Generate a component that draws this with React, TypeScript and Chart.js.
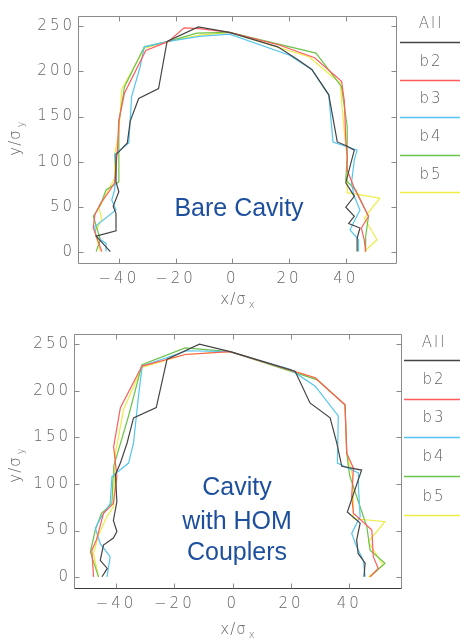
import React, { useEffect, useRef } from 'react';
import { Chart, registerables } from 'chart.js';
Chart.register(...registerables);

// ---- data ----
const xTicks = [-40, -20, 0, 20, 40];
const yTicks = [0, 50, 100, 150, 200, 250];
const seriesLabels = ['All', 'b2', 'b3', 'b4', 'b5'];
const seriesColors = ['#454545', '#ff5c5c', '#56c6ef', '#6dc24b', '#eeec46'];

// Bare cavity
const bareAll = [[-43,1],[-48,18],[-41,24],[-41,43],[-42,51],[-40,67],[-41,78],[-41,100],[-41,108],[-37,121],[-36,145],[-33,170],[-26,181],[-23,233],[-12,249],[-1,243],[16,227],[23,213],[28,202],[34,174],[37,122],[40,118],[43,113],[40,77],[43,62],[40,50],[43,40],[41,32],[45,27],[44,16],[44,1]];
const bareB2 = [[-46,1],[-49,27],[-48.5,41],[-46.5,54],[-43.5,67],[-41.5,77],[-40.5,113],[-40,146],[-38,176],[-30.5,223],[-22.5,233],[-17,248],[-11.5,247],[-1,243],[16.5,229],[29,215],[38.5,189],[39.5,167],[40,124],[40.5,106],[40.5,91],[43,71],[48,40],[45.5,27],[46.5,14],[47,1]];
const bareB3 = [[-44.5,1],[-44.5,10],[-48,17.5],[-48.5,28.5],[-41,47],[-42.5,58],[-41.5,69],[-41,91],[-41.5,108],[-36.5,121],[-36,146],[-35.5,172],[-32.5,205],[-31,227],[-22.5,233],[-11.5,238.5],[-1,241],[20,218],[28,202],[34,174],[35.5,122],[44,113],[43,102],[42,76.5],[43,62],[45,47],[41.5,25],[44.5,14],[44.5,1]];
const bareB4 = [[-48,1],[-46.5,14],[-49,40],[-46.5,52.5],[-44.5,69],[-40,78],[-40,113],[-40,143],[-38,183],[-31,227],[-22.5,233],[-12.5,242],[-1,243],[29.5,220],[38.5,183],[40.5,139],[40.5,106],[40,80],[43.5,69],[48,40],[47,17.5],[47,1]];
const bareB5 = [[-46.5,1],[-48.5,23],[-46,36],[-47,49],[-43,73],[-41.5,82],[-41.5,108],[-40,132],[-39,180],[-31,225.5],[-22.5,233],[-11.5,240],[-1,243],[27,216],[33,200],[38,187],[39.5,132],[40.5,106],[40.5,66],[52,60],[46.5,38],[51,14],[46.5,1]];

// Cavity with HOM couplers
const homAll = [[-44.8,0.5],[-43,9.4],[-45.4,18],[-44.3,34.5],[-40.9,42],[-39.7,49],[-40.9,61],[-39.7,81],[-40.2,110],[-38.5,122.5],[-36.2,144],[-34,171],[-26.2,182],[-22.5,234],[-11.4,250],[-0.9,242],[21.4,221],[26.5,187],[33.4,171],[35.7,144],[37.4,119],[44.2,115],[39.3,70],[43.7,58],[42.5,40],[43,25.5],[45.4,15],[45,0.5]];
const homB2 = [[-47.7,0.3],[-48.3,29],[-46.7,40],[-44.3,68.6],[-40.9,79],[-39.7,108],[-40.8,140],[-38.5,182],[-31.1,226.6],[-16.3,239],[-0.9,242],[28.3,214],[38.5,185],[39.1,133],[41.4,117],[40.8,86.5],[41.4,68.6],[47.7,50.6],[48.2,22],[49.9,9.4],[47.1,0.3]];
const homB3 = [[-43.1,0.3],[-42,22],[-45.4,36],[-47.1,52.5],[-45,65],[-42,79],[-41.4,108],[-35.7,122.5],[-34,144],[-32.3,194],[-31,226.6],[-15.7,243],[-0.9,242],[19.7,223],[28.3,205],[36.2,173],[35.9,122.5],[43.1,112],[43.1,97],[43.7,65],[40.8,47],[42.5,32.6],[44.8,18],[45.4,0.3]];
const homB4 = [[-46,0.3],[-48.8,27],[-47.1,50.6],[-45,68.6],[-41.4,79],[-41,108],[-40.8,119],[-35.7,173],[-31.1,228],[-16.3,246],[-0.9,242],[28.8,212],[38.5,185],[39.1,135],[39.7,117],[40.2,108],[46,54],[47.1,29],[52.2,15],[47.1,0.3]];
const homB5 = [[-46,0.3],[-47.7,25.5],[-46,45],[-43.1,65],[-40.8,75.8],[-40.5,108],[-40.2,133],[-37.4,180],[-31.1,225],[-16.3,239],[-0.9,242],[28.3,214],[38.5,185],[39.1,133],[41,110],[41.4,86.5],[41.4,63],[52.2,59.6],[46.5,38],[51.6,13],[46.5,0.3]];

const bareSeries = [bareAll, bareB2, bareB3, bareB4, bareB5];
const homSeries = [homAll, homB2, homB3, homB4, homB5];
const bareNote = ['Bare Cavity'];
const homNote = ['Cavity', 'with HOM', 'Couplers'];

// ---- styling ----
const TICK_FONT = '"DejaVu Sans"';
const GRAY_TEXT = '#636363';
const AXIS_GRAY = '#8a8a8a';
const NOTE_BLUE = '#1d4f9e';

type PanelCfg = {
  h: number; left: number; right: number; top: number; bottom: number;
  series: number[][][];
  legendX0: number; legendTextX: number; legendTextY: number[]; legendLineY: number[];
  yTitle: [number, number]; xTitle: [number, number];
  note: string[]; noteX: number; noteY: number[];
  bottomAxisColor: string;
};

const topCfg: PanelCfg = {
  h: 320, left: 78, right: 396, top: 16, bottom: 263,
  series: bareSeries,
  legendX0: 400, legendTextX: 430, legendTextY: [24, 62, 99, 137, 175], legendLineY: [42, 80, 117, 155, 192],
  yTitle: [15, 138], xTitle: [238, 299],
  note: bareNote, noteX: 239, noteY: [209],
  bottomAxisColor: AXIS_GRAY,
};
const botCfg: PanelCfg = {
  h: 321, left: 74, right: 401, top: 14, bottom: 268,
  series: homSeries,
  legendX0: 404, legendTextX: 433, legendTextY: [23, 60, 98, 137, 177], legendLineY: [40, 79, 117, 156, 195],
  yTitle: [15, 145], xTitle: [238, 309],
  note: homNote, noteX: 237, noteY: [168, 202, 233],
  bottomAxisColor: '#3c3c3c',
};

function fmt(v: number) {
  return v < 0 ? '\u2212' + Math.abs(v) : String(v);
}

function drawSubTitle(ctx: CanvasRenderingContext2D, main: string, sub: string) {
  ctx.font = `200 15px ${TICK_FONT}`;
  const w1 = ctx.measureText(main).width;
  ctx.font = `200 10px ${TICK_FONT}`;
  const w2 = ctx.measureText(sub).width;
  const x0 = -(w1 + w2 + 2) / 2;
  ctx.textAlign = 'left';
  ctx.textBaseline = 'alphabetic';
  ctx.font = `200 15px ${TICK_FONT}`;
  ctx.fillText(main, x0, 5);
  ctx.font = `200 10px ${TICK_FONT}`;
  ctx.fillText(sub, x0 + w1 + 2, 9);
}

const framePlugin = {
  id: 'frame',
  beforeDraw(chart: any) {
    chart.ctx.letterSpacing = '3px';
  },
  afterDraw(chart: any, _args: any, o: any) {
    const ctx: CanvasRenderingContext2D = chart.ctx;
    const a = chart.chartArea;
    const xs = chart.scales.x;
    const ys = chart.scales.y;
    ctx.save();
    ctx.letterSpacing = '0px';
    ctx.lineWidth = 1;
    const L = Math.round(a.left) + 0.5, R = Math.round(a.right) + 0.5;
    const T = Math.round(a.top) + 0.5, B = Math.round(a.bottom) + 0.5;
    ctx.strokeStyle = AXIS_GRAY;
    ctx.beginPath();
    ctx.moveTo(L, B); ctx.lineTo(L, T); ctx.lineTo(R, T); ctx.lineTo(R, B);
    ctx.stroke();
    ctx.strokeStyle = o.bottomAxisColor;
    ctx.beginPath(); ctx.moveTo(L, B); ctx.lineTo(R, B); ctx.stroke();
    ctx.strokeStyle = AXIS_GRAY;
    const tl = 5;
    ctx.beginPath();
    for (const v of xTicks) {
      const px = Math.round(xs.getPixelForValue(v)) + 0.5;
      ctx.moveTo(px, B); ctx.lineTo(px, B - tl);
      ctx.moveTo(px, T); ctx.lineTo(px, T + tl);
    }
    for (const v of yTicks) {
      const py = Math.round(ys.getPixelForValue(v)) + 0.5;
      ctx.moveTo(L, py); ctx.lineTo(L + tl, py);
      ctx.moveTo(R, py); ctx.lineTo(R - tl, py);
    }
    ctx.stroke();

    // legend table
    chart.data.datasets.forEach((ds: any, i: number) => {
      ctx.strokeStyle = ds.borderColor;
      ctx.lineWidth = 1.6;
      ctx.beginPath();
      ctx.moveTo(o.legendX0, o.legendLineY[i] + 0.5);
      ctx.lineTo(chart.width, o.legendLineY[i] + 0.5);
      ctx.stroke();
      ctx.fillStyle = GRAY_TEXT;
      ctx.font = `200 15px ${TICK_FONT}`;
      ctx.letterSpacing = '2px';
      ctx.textAlign = 'center';
      ctx.textBaseline = 'middle';
      ctx.fillText(ds.label, o.legendTextX + 1, o.legendTextY[i]);
    });

    // axis titles
    ctx.letterSpacing = '1px';
    ctx.fillStyle = GRAY_TEXT;
    ctx.save();
    ctx.translate(o.xTitle[0], o.xTitle[1]);
    drawSubTitle(ctx, 'x/\u03c3', 'x');
    ctx.restore();
    ctx.save();
    ctx.translate(o.yTitle[0], o.yTitle[1]);
    ctx.rotate(-Math.PI / 2);
    drawSubTitle(ctx, 'y/\u03c3', 'y');
    ctx.restore();

    // annotation
    ctx.letterSpacing = '0px';
    ctx.fillStyle = NOTE_BLUE;
    ctx.font = '25px "Liberation Sans", Arial, sans-serif';
    ctx.textAlign = 'center';
    ctx.textBaseline = 'middle';
    o.note.forEach((t: string, i: number) => ctx.fillText(t, o.noteX, o.noteY[i]));
    ctx.restore();
  },
};

function makeConfig(c: PanelCfg): any {
  return {
    type: 'scatter',
    data: {
      datasets: c.series.map((pts, i) => ({
        label: seriesLabels[i],
        data: pts.map(([x, y]) => ({ x, y })),
        showLine: true,
        borderColor: seriesColors[i],
        backgroundColor: seriesColors[i],
        borderWidth: 1.2,
        pointRadius: 0,
        pointHoverRadius: 0,
        tension: 0,
        fill: false,
      })),
    },
    options: {
      responsive: false,
      animation: false,
      events: [],
      layout: { padding: { left: 0, right: 460 - c.right, top: c.top, bottom: 0 } },
      plugins: {
        legend: { display: false },
        tooltip: { enabled: false },
        frame: c,
      },
      scales: {
        x: {
          type: 'linear',
          min: -54.4,
          max: 57.7,
          afterBuildTicks: (s: any) => { s.ticks = xTicks.map((v) => ({ value: v })); },
          afterFit: (s: any) => { s.height = c.h - c.bottom; },
          grid: { display: false, drawTicks: false },
          border: { display: false },
          ticks: {
            autoSkip: false, maxRotation: 0, padding: 7,
            color: GRAY_TEXT,
            font: { family: TICK_FONT, size: 15, weight: '200' },
            callback: (v: number) => fmt(v),
          },
        },
        y: {
          type: 'linear',
          min: -11.6,
          max: 261,
          afterBuildTicks: (s: any) => { s.ticks = yTicks.map((v) => ({ value: v })); },
          afterFit: (s: any) => { s.width = c.left; },
          grid: { display: false, drawTicks: false },
          border: { display: false },
          ticks: {
            autoSkip: false, padding: 3,
            color: GRAY_TEXT,
            font: { family: TICK_FONT, size: 15, weight: '200' },
            callback: (v: number) => fmt(v),
          },
        },
      },
    },
    plugins: [framePlugin],
  };
}

function Panel({ cfg, top }: { cfg: PanelCfg; top: number }) {
  const ref = useRef<HTMLCanvasElement>(null);
  useEffect(() => {
    const chart = new Chart(ref.current as HTMLCanvasElement, makeConfig(cfg));
    return () => chart.destroy();
  }, [cfg]);
  return (
    <canvas
      ref={ref}
      width={460}
      height={cfg.h}
      style={{ position: 'absolute', left: 0, top, width: 460, height: cfg.h, display: 'block' }}
    />
  );
}

export default function App() {
  return (
    <div style={{ position: 'fixed', left: 0, top: 0, width: 460, height: 641, background: '#fff', overflow: 'hidden' }}>
      <Panel cfg={topCfg} top={0} />
      <Panel cfg={botCfg} top={320} />
    </div>
  );
}
